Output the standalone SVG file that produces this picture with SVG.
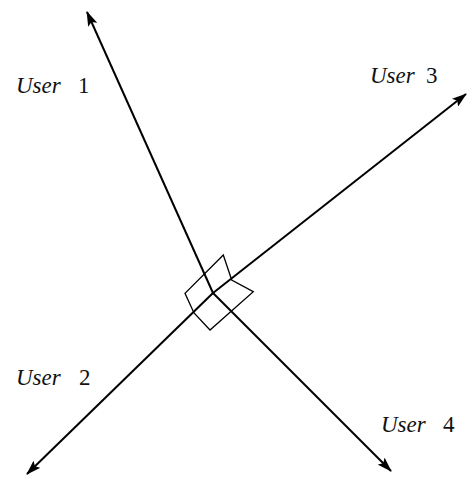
<svg xmlns="http://www.w3.org/2000/svg" width="467" height="479" viewBox="0 0 467 479">
<style>
.ray{stroke:#000;stroke-width:2;fill:none}
.mark{stroke:#000;stroke-width:1.3;fill:none}
.lbl{font-family:"Liberation Serif","Times New Roman",serif;font-size:23px;fill:#111}
.it{font-style:italic}
</style>
<defs>
<marker id="ah" viewBox="0 0 15 10" refX="14" refY="5" markerWidth="15" markerHeight="10" markerUnits="userSpaceOnUse" orient="auto">
<path d="M0,0 L15,5 L0,10 L3,5 Z" fill="#000"/>
</marker>
</defs>
<rect width="467" height="479" fill="#fff"/>
<g id="connectors">
<line class="ray" x1="213" y1="293" x2="87" y2="12" marker-end="url(#ah)"/>
<line class="ray" x1="213" y1="293" x2="466" y2="94" marker-end="url(#ah)"/>
<line class="ray" x1="213" y1="293" x2="27" y2="474" marker-end="url(#ah)"/>
<line class="ray" x1="213" y1="293" x2="391" y2="471" marker-end="url(#ah)"/>
</g>
<g id="right-angle">
<polygon class="mark" points="223.3,255 231.7,280 253.3,291.7 210,330 194,313 185,293.3"/>
</g>
<g id="user1"><text class="lbl" y="93"><tspan class="it" x="16">User</tspan><tspan x="78">1</tspan></text></g>
<g id="user3"><text class="lbl" y="83"><tspan class="it" x="370">User</tspan><tspan x="426">3</tspan></text></g>
<g id="user2"><text class="lbl" y="385"><tspan class="it" x="16">User</tspan><tspan x="79">2</tspan></text></g>
<g id="user4"><text class="lbl" y="432"><tspan class="it" x="381">User</tspan><tspan x="443">4</tspan></text></g>
</svg>
